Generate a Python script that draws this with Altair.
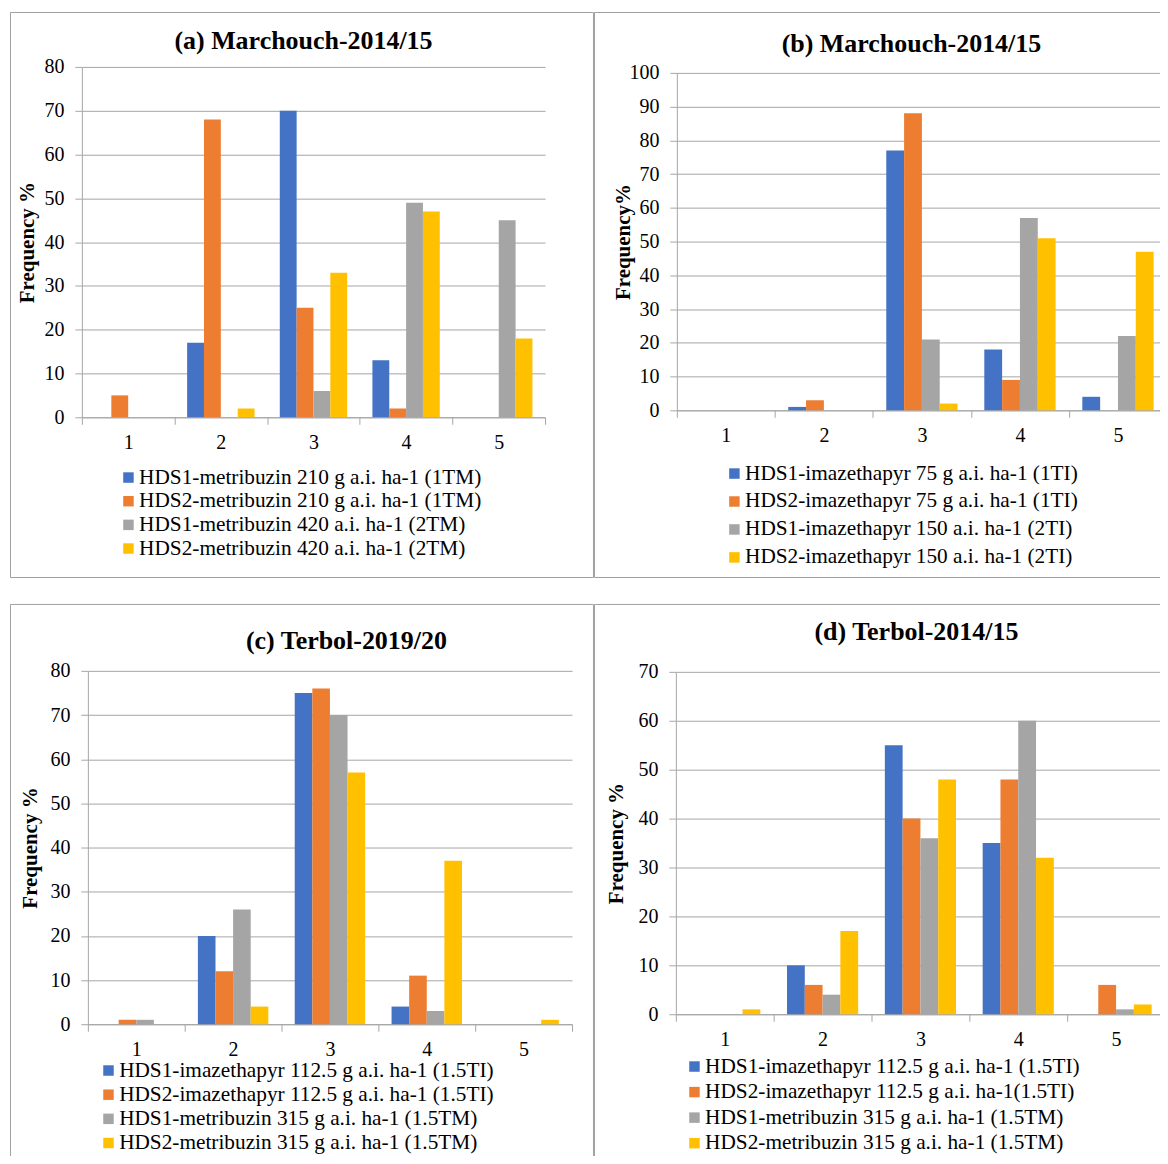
import altair as alt
import pandas as pd

FONT = "Liberation Serif"
GRAY = "#A6A6A6"

categories = ["1", "2", "3", "4", "5"]
colors = ["#4472C4", "#ED7D31", "#A5A5A5", "#FFC000"]

# (a) Marchouch-2014/15
a_title = "(a) Marchouch-2014/15"
a_series = [
    "HDS1-metribuzin 210 g a.i. ha-1 (1TM)",
    "HDS2-metribuzin 210 g a.i. ha-1 (1TM)",
    "HDS1-metribuzin 420  a.i. ha-1 (2TM)",
    "HDS2-metribuzin 420  a.i. ha-1 (2TM)",
]
a_s1 = [0, 17, 70, 13, 0]
a_s2 = [5, 68, 25, 2, 0]
a_s3 = [0, 0, 6, 49, 45]
a_s4 = [0, 2, 33, 47, 18]

# (b) Marchouch-2014/15
b_title = "(b) Marchouch-2014/15"
b_series = [
    "HDS1-imazethapyr 75 g a.i. ha-1 (1TI)",
    "HDS2-imazethapyr 75 g a.i. ha-1 (1TI)",
    "HDS1-imazethapyr 150  a.i. ha-1 (2TI)",
    "HDS2-imazethapyr 150  a.i. ha-1 (2TI)",
]
b_s1 = [0, 1, 77, 18, 4]
b_s2 = [0, 3, 88, 9, 0]
b_s3 = [0, 0, 21, 57, 22]
b_s4 = [0, 0, 2, 51, 47]

# (c) Terbol-2019/20
c_title = "(c) Terbol-2019/20"
c_series = [
    "HDS1-imazethapyr 112.5 g a.i. ha-1 (1.5TI)",
    "HDS2-imazethapyr 112.5 g a.i. ha-1 (1.5TI)",
    "HDS1-metribuzin 315 g a.i. ha-1 (1.5TM)",
    "HDS2-metribuzin 315 g a.i. ha-1 (1.5TM)",
]
c_s1 = [0, 20, 75, 4, 0]
c_s2 = [1, 12, 76, 11, 0]
c_s3 = [1, 26, 70, 3, 0]
c_s4 = [0, 4, 57, 37, 1]

# (d) Terbol-2014/15
d_title = "(d) Terbol-2014/15"
d_series = [
    "HDS1-imazethapyr 112.5 g a.i. ha-1 (1.5TI)",
    "HDS2-imazethapyr 112.5 g a.i. ha-1(1.5TI)",
    "HDS1-metribuzin 315 g a.i. ha-1 (1.5TM)",
    "HDS2-metribuzin 315 g a.i. ha-1 (1.5TM)",
]
d_s1 = [0, 10, 55, 35, 0]
d_s2 = [0, 6, 40, 48, 6]
d_s3 = [0, 4, 36, 60, 1]
d_s4 = [1, 17, 48, 32, 2]


def panel(title, series, vals, ymax, ylabel, W, H, xr, yr, txy, tx_axis, lxy, rowpad):
    rows = []
    for s, v in zip(series, vals):
        for c, val in zip(categories, v):
            rows.append({"cat": c, "series": s, "value": val})
    df = pd.DataFrame(rows)
    bars = alt.Chart(df).mark_bar().encode(
        x=alt.X(
            "cat:N",
            sort=categories,
            scale=alt.Scale(domain=categories, range=xr, paddingInner=0, paddingOuter=0),
            axis=alt.Axis(
                title=None, labelAngle=0, tickBand="extent", offset=yr[0] - H,
                domainColor=GRAY, tickColor=GRAY, tickSize=7, labelPadding=8,
                labelFont=FONT, labelFontSize=20, labelColor="black", grid=False,
            ),
        ),
        xOffset=alt.XOffset(
            "series:N", sort=series,
            scale=alt.Scale(domain=series, paddingOuter=0.75, paddingInner=0),
        ),
        y=alt.Y(
            "value:Q",
            scale=alt.Scale(domain=[0, ymax], range=yr, nice=False, zero=True),
            axis=alt.Axis(
                title=ylabel, values=list(range(0, ymax + 1, 10)), offset=-xr[0],
                grid=True, gridColor=GRAY, domainColor=GRAY, tickColor=GRAY,
                tickSize=7, labelPadding=11, labelFont=FONT, labelFontSize=20,
                labelColor="black", titleFont=FONT, titleFontSize=21,
                titleFontWeight="bold", titleColor="black", titleX=tx_axis,
            ),
        ),
        color=alt.Color(
            "series:N",
            scale=alt.Scale(domain=series, range=colors),
            legend=alt.Legend(
                title=None, orient="none", legendX=lxy[0], legendY=lxy[1],
                direction="vertical", symbolType="square", symbolSize=110,
                symbolStrokeWidth=0, labelFont=FONT, labelFontSize=21.33,
                labelColor="black", labelLimit=700, labelOffset=0, rowPadding=rowpad,
            ),
        ),
    )
    ttl = alt.Chart(alt.Data(values=[{}])).mark_text(
        font=FONT, fontSize=26, fontWeight="bold", align="center",
        baseline="middle", color="black",
    ).encode(x=alt.value(txy[0]), y=alt.value(txy[1]), text=alt.value(title))
    return alt.layer(bars, ttl).properties(width=W, height=H)


pa = panel(a_title, a_series, [a_s1, a_s2, a_s3, a_s4], 80, "Frequency %",
           584, 566, [72, 536], [406, 55], (294, 29), -44, (108, 455.7), 1.7)
pb = panel(b_title, b_series, [b_s1, b_s2, b_s3, b_s4], 100, "Frequency%",
           576, 566, [83, 574], [399, 61], (318, 32), -43, (130, 451.7), 6)
pc = panel(c_title, c_series, [c_s1, c_s2, c_s3, c_s4], 80, "Frequency %",
           584, 561, [78, 563], [421, 67], (337, 37), -47, (88, 456.7), 2.2)
pd_ = panel(d_title, d_series, [d_s1, d_s2, d_s3, d_s4], 70, "Frequency %",
            576, 561, [82, 572], [411, 68], (323, 28), -49, (90, 452.7), 3.6)

ind = dict(color="independent", x="independent", y="independent", xOffset="independent")
row1 = alt.hconcat(pa, pb, spacing=-2).resolve_scale(**ind)
row2 = alt.hconcat(pc, pd_, spacing=-2).resolve_scale(**ind)
chart = (
    alt.vconcat(row1, row2, spacing=25)
    .resolve_scale(**ind)
    .properties(padding={"left": 1, "top": 2, "right": -10, "bottom": -10})
    .configure_view(stroke="#A0A0A0", strokeWidth=1)
)

chart.save("out.html", embed_options={"renderer": "svg", "actions": False})
